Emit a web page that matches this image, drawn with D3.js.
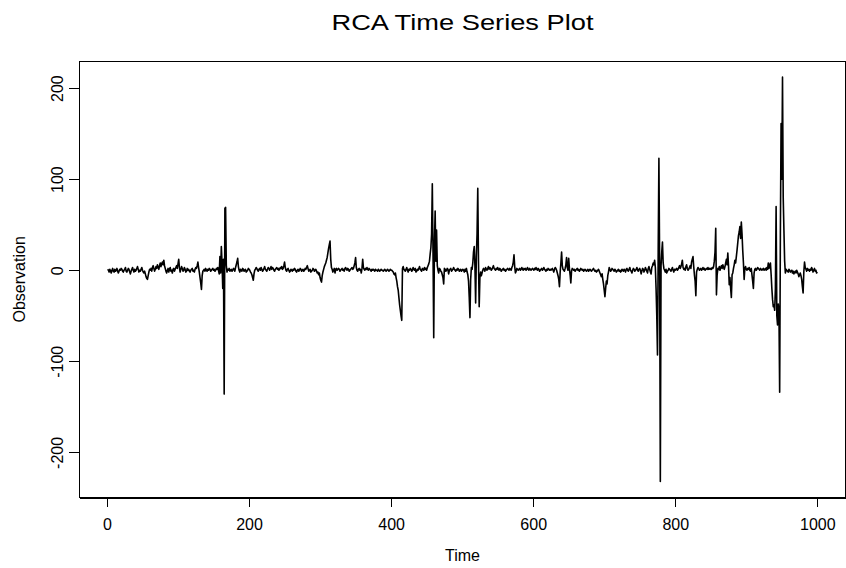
<!DOCTYPE html>
<meta charset="utf-8">

<script src="https://d3js.org/d3.v7.min.js"></script>

<style type="text/css">

body {
  margin:0;
  background:#fff;
}

svg {
  display:block;
  font-family:"Liberation Sans", Arial, Helvetica, sans-serif;
}

.axis text {
  font-size:16px;
  fill:#000;
}

.axis line, .axis path {
  stroke:#000;
  stroke-width:1px;
  shape-rendering:crispEdges;
}

</style>

<body>
</body>

<script>

//labels and ticks
var chartTitle = "RCA Time Series Plot";
var xLabel = "Time";
var yLabel = "Observation";
var xTicks = [0, 200, 400, 600, 800, 1000];
var yTicks = [-200, -100, 0, 100, 200];

var observation = [
  1,0,-2,1,-1, -3,0,2,-1,-2, 1,-1,0,2,-1, -3,-1,1,0,2, 1,-1,-2,0,1,
  3,-1,-2,0,2, 1,-2,-4,-1,1, 3,0,-2,1,-1, 0,2,4,1,-2, 0,-1,1,3,0,
  -2,-3,-1,-4,-7, -9,-10,-6,-2,1, 0,2,-1,3,5, 2,-1,1,4,2, 6,3,1,5,8,
  4,7,9,6,11, 5,2,-1,-3,0, 2,-2,1,3,-1, 0,-3,1,2,-1, 1,3,5,2,7,
  12,3,-2,1,4, 2,-1,0,3,1, -2,-1,2,0,1, -1,-2,0,1,2, -1,0,-2,1,3,
  2,5,9,3,-2, -8,-14,-21,-6,-1, 0,1,-1,2,0, -1,1,0,2,1, -1,0,1,2,0,
  1,-1,0,2,1, 3,0,-4,15,-3, 26,8,-20,12,-136, 68,69,5,-2,1, 0,2,-1,0,1,
  -1,0,2,1,-1, 3,6,9,13,4, 0,-2,1,0,-1, 2,1,-1,0,1, -2,-1,0,2,1,
  0,-2,-3,-5,-8, -11,-4,0,1,3, 2,0,-1,1,2, 0,3,1,-1,0, 2,4,1,0,-1,
  1,3,2,0,2, 4,1,3,2,0, -1,1,2,3,1, 2,0,1,3,2, 4,1,2,5,9,
  3,0,-1,1,2, 0,-2,-1,1,0, -1,1,0,2,1, -1,-2,0,1,-1, 0,2,1,-1,0,
  1,-1,0,2,1, 3,5,2,-1,0, 1,-2,-1,0,2, 1,-1,0,1,-1, -3,-2,-5,-3,-8,
  -11,-13,-6,-2,1, 4,6,8,11,14, 19,24,28,32,12, 3,1,-2,0,2, -3,1,2,0,1,
  2,1,-1,0,1, 2,0,1,-1,2, 3,1,0,2,1, -1,0,1,2,3, 1,2,5,8,14,
  3,0,-1,1,2, 0,1,-3,2,12, 3,1,0,2,1, 3,1,0,2,1, 0,-1,1,0,1,
  0,-1,1,0,0, -1,1,0,-1,0, 1,0,0,-1,0, 1,0,-1,0,1, 0,-1,0,1,0,
  0,-1,-2,-4,-5, -3,-8,-12,-18,-22, -30,-38,-44,-50,-55, 2,4,1,0,-1, 1,3,0,-2,1,
  0,2,1,-1,0, 3,1,0,2,-2, -1,1,0,2,4, 1,0,-1,2,1, 0,3,1,2,0,
  3,5,7,10,18, 25,40,95,20,-74, 30,65,10,44,5, 0,-3,2,1,-1, -2,-5,-8,-15,2,
  1,-1,0,2,1, -4,0,1,2,-1, 0,1,3,1,0, -1,1,0,2,1, -1,0,1,-1,0,
  1,0,-2,1,-1, 2,-2,-5,-12,-30, -52,-10,3,1,8, 20,26,5,-36,15, 40,90,10,-40,-8,
  -2,-6,-3,0,2, 1,-1,3,1,0, 2,4,1,3,2, 0,1,3,5,2, 1,0,2,1,3,
  1,0,2,1,-1, 0,1,2,0,1, -1,0,1,2,1, 0,2,1,0,3, 5,9,17,4,-3,
  -1,2,1,0,1, 2,0,1,3,1, 0,2,1,2,0, 1,3,1,0,2, 1,0,1,2,1,
  0,2,1,3,1, 0,2,1,-1,0, 1,2,0,1,3, 1,0,-1,1,0, 2,1,0,1,0,
  1,2,0,-2,1, 3,2,0,-3,-6, -10,-18,-2,8,20, 5,1,0,-1,2, 6,14,3,0,13,
  2,-5,-14,-1,2, 1,0,1,-1,0, 1,2,0,1,-1, 0,2,1,0,1, -1,0,1,0,-1,
  0,1,-1,0,1, 0,-1,0,1,2, 0,-1,0,-2,-1, 0,1,-1,-3,-5, -7,-4,-10,-15,-22,
  -29,-20,-12,-15,-6, -2,3,1,-1,0, 2,1,0,-1,1, 0,-2,-1,0,1, -1,0,-2,-1,1,
  0,-1,1,0,-2, 1,2,0,-1,1, 3,0,-1,-3,0, 2,1,-1,0,1, 3,0,-1,1,2,
  0,-4,-1,2,1, -2,0,3,1,-1, -3,2,4,1,-2, -4,3,5,8,6, 11,3,-20,-50,-93,
  20,123,10,-232,5, 20,31,8,2,0, -2,1,-3,-1,0, 2,1,0,-1,1, 3,0,-2,1,0,
  1,2,0,1,3, 5,2,4,7,11, 3,1,2,0,4, 6,2,0,1,3, 5,2,9,12,15,
  4,-5,-12,-28,-2, 1,3,2,0,1, 2,0,1,3,1, 2,0,1,2,1, 3,1,2,1,2,
  1,3,2,4,10, 20,46,-27,-5,2, 1,4,0,3,5, 2,6,3,1,4, 8,12,6,19,5,
  -16,-8,-20,-30,-5, -3,2,6,11,8, 15,22,30,38,42, 48,35,53,40,22, 8,-10,2,4,1,
  0,2,1,3,0, -1,2,-5,-12,-20, -3,1,2,0,1, 3,2,1,0,2, 1,0,1,2,0,
  1,2,0,3,1, 8,2,5,8,-5, -20,-32,-40,-38,-44, -20,70,-50,-60,-37, -45,-134,40,161,100,
  212,80,44,10,-3, 1,0,-1,-2,1, 0,-2,-1,0,-3, -1,-4,-2,-1,-3, 0,-2,-4,-7,-5,
  -3,-6,-10,-18,-25, -2,9,3,1,-1, 2,0,1,-1,1, 0,3,1,-2,0, 2,-1,0,-3,-2
];

var data = observation.map(function(v, i) {
  return {time: i + 1, value: v};
});

//variable definitions
var W = 846, H = 568;
var margin = {top: 61, right: 0.3, bottom: 70.3, left: 79.3};
var width = W - margin.left - margin.right,
    height = H - margin.top - margin.bottom;

var svg = d3.select('body').append('svg')
  .attr('width', W)
  .attr('height', H);

var g = svg.append('g')
  .attr("transform", "translate(" + margin.left + "," + margin.top + ")");

//scales, padded 4% like R does
var tExt = d3.extent(data, function(d) { return d.time; });
var vExt = d3.extent(data, function(d) { return d.value; });
var tPad = (tExt[1] - tExt[0]) * 0.04,
    vPad = (vExt[1] - vExt[0]) * 0.04;

var xScale = d3.scaleLinear()
  .domain([tExt[0] - tPad, tExt[1] + tPad])
  .range([0, width]);

var yScale = d3.scaleLinear()
  .domain([vExt[0] - vPad, vExt[1] + vPad])
  .range([height, 0]);

//plain hyphen for negatives, as R prints them
var fmt = function(d) { return String(d); };

//axes
var xAxis = d3.axisBottom(xScale)
  .tickValues(xTicks)
  .tickSize(9)
  .tickSizeOuter(0)
  .tickFormat(fmt);

var yAxis = d3.axisLeft(yScale)
  .tickValues(yTicks)
  .tickSize(10)
  .tickSizeOuter(0)
  .tickFormat(fmt);

var gx = g.append('g')
  .attr('class', 'x axis')
  .attr('transform', 'translate(0,' + height + ')')
  .call(xAxis);

gx.selectAll('text')
  .attr('y', 32)
  .attr('dy', null);

var gy = g.append('g')
  .attr('class', 'y axis')
  .call(yAxis);

gy.selectAll('text')
  .attr('x', null)
  .attr('y', 0)
  .attr('dy', null)
  .attr('text-anchor', 'middle')
  .attr('transform', 'translate(-16.6,0) rotate(-90)');

g.selectAll('.axis').attr('font-family', null).attr('font-size', null);

//box round the plot region
g.append('rect')
  .attr('class', 'frame')
  .attr('x', 0)
  .attr('y', 0)
  .attr('width', width)
  .attr('height', height)
  .attr('fill', 'none')
  .attr('stroke', '#000')
  .attr('stroke-width', 1)
  .attr('shape-rendering', 'crispEdges');

//the series
var line = d3.line()
  .x(function(d) { return xScale(d.time); })
  .y(function(d) { return yScale(d.value); });

g.append('path')
  .datum(data)
  .attr('class', 'series')
  .attr('d', line)
  .attr('fill', 'none')
  .attr('stroke', '#000')
  .attr('stroke-width', 1.6)
  .attr('stroke-linejoin', 'round');

//titles (the main title is drawn wide in the original)
svg.append('text')
  .attr('class', 'title')
  .attr('x', margin.left + width / 2)
  .attr('y', 29.5)
  .attr('text-anchor', 'middle')
  .attr('textLength', 262)
  .attr('lengthAdjust', 'spacingAndGlyphs')
  .style('font-size', '22px')
  .text(chartTitle);

svg.append('text')
  .attr('class', 'xlabel')
  .attr('x', margin.left + width / 2)
  .attr('y', 561)
  .attr('text-anchor', 'middle')
  .style('font-size', '16px')
  .text(xLabel);

svg.append('text')
  .attr('class', 'ylabel')
  .attr('transform', 'translate(25,' + (margin.top + height / 2) + ') rotate(-90)')
  .attr('text-anchor', 'middle')
  .style('font-size', '16px')
  .text(yLabel);

</script>
